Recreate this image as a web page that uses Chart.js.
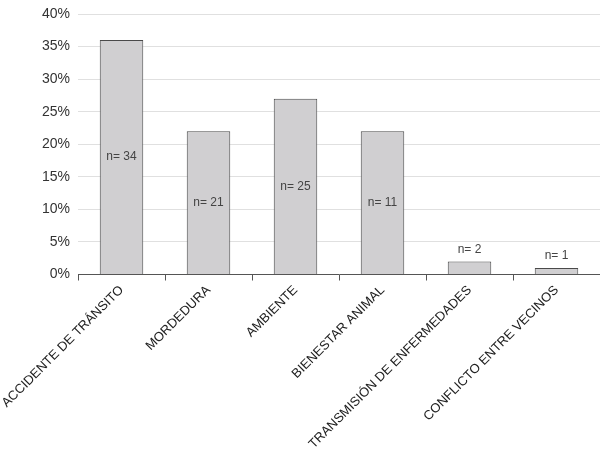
<!DOCTYPE html>
<html>
<head>
<meta charset="utf-8">
<script src="https://cdn.jsdelivr.net/npm/chart.js@4"></script>
<style>
html,body{margin:0;padding:0;background:#fff;}
#wrap{width:600px;height:453px;}
</style>
</head>
<body>
<div id="wrap"><canvas id="c" width="600" height="453"></canvas></div>
<script>
const categories = ["ACCIDENTE DE TRÁNSITO","MORDEDURA","AMBIENTE","BIENESTAR ANIMAL","TRANSMISIÓN DE ENFERMEDADES","CONFLICTO ENTRE VECINOS"];
const percentages = [36, 22, 27, 22, 2, 1];
const counts = [34, 21, 25, 11, 2, 1];
const yTicks = [0, 5, 10, 15, 20, 25, 30, 35, 40];

const countLabels = {
  id: 'countLabels',
  afterDatasetsDraw(chart) {
    const ctx = chart.ctx;
    const meta = chart.getDatasetMeta(0);
    ctx.save();
    ctx.font = '12px "Liberation Sans", Arial, sans-serif';
    ctx.fillStyle = '#444';
    ctx.textAlign = 'center';
    ctx.textBaseline = 'middle';
    meta.data.forEach((bar, i) => {
      const h = bar.base - bar.y;
      let y;
      if (h > 30) y = (bar.y + bar.base) / 2;
      else y = bar.y - 12;
      ctx.fillText('n= ' + counts[i], bar.x, y);
    });
    ctx.restore();
  }
};

new Chart(document.getElementById('c'), {
  type: 'bar',
  data: {
    labels: categories,
    datasets: [{
      data: percentages,
      backgroundColor: '#d0cfd1',
      borderColor: '#4a4a4a',
      borderWidth: 1,
      barPercentage: 0.5,
      categoryPercentage: 1.0
    }]
  },
  options: {
    responsive: false,
    animation: false,
    devicePixelRatio: 1,
    layout: { padding: { top: 14, right: 0, left: 0, bottom: 0 } },
    plugins: { legend: { display: false }, tooltip: { enabled: false } },
    scales: {
      x: {
        grid: { offset: true, drawOnChartArea: false, drawTicks: true, tickLength: 6, color: '#555' },
        border: { display: true, color: '#555', width: 1 },
        ticks: {
          autoSkip: false,
          maxRotation: 45, minRotation: 45,
          font: { family: '"Liberation Sans", Arial, sans-serif', size: 13 },
          color: '#222',
          padding: 2
        },
        afterFit(scale) {
          scale.height = 453 - 274.5;
          scale.paddingLeft = 0;
          scale.paddingRight = 0;
          scale.paddingTop = 0;
        }
      },
      y: {
        min: 0, max: 40,
        afterBuildTicks(scale) { scale.ticks = yTicks.map(v => ({ value: v })); },
        grid: { color: '#e0e0e0', drawTicks: false, lineWidth: 1 },
        border: { display: false },
        ticks: {
          callback: v => v + '%',
          font: { family: '"Liberation Sans", Arial, sans-serif', size: 14 },
          color: '#333',
          padding: 8
        },
        afterFit(scale) {
          scale.width = 78;
          scale.paddingTop = 0;
          scale.paddingBottom = 0;
        }
      }
    }
  },
  plugins: [countLabels]
});
</script>
</body>
</html>
